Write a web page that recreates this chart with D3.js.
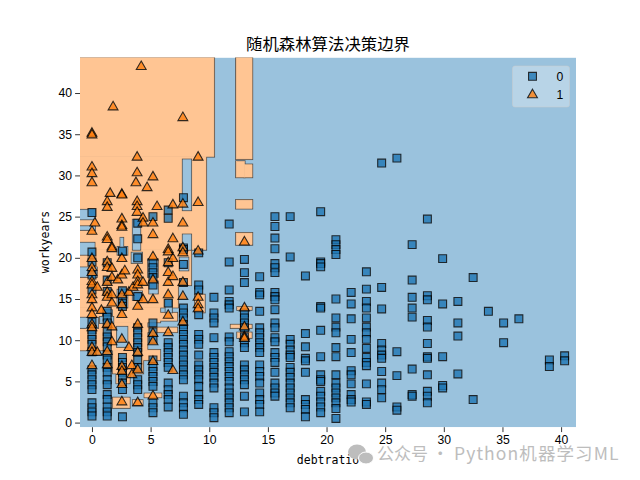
<!DOCTYPE html>
<html><head><meta charset="utf-8">
<script src="https://cdn.jsdelivr.net/npm/d3@7"></script>
<style>html,body{margin:0;background:#fff}svg{display:block}</style>
</head><body><svg id="c" width="640" height="480"></svg>
<script>
const titleText = "随机森林算法决策边界";
const xLabel = "debtratio", yLabel = "workyears";
const xTicks = [0,5,10,15,20,25,30,35,40];
const yTicks = [0,5,10,15,20,25,30,35,40];
const legendLabels = ["0","1"];
const debtColumns = [0,1.3,2.6,3.9,5.2,6.5,7.8,9.1,10.4,11.7,13,14.3,15.6,16.9,18.2,19.5,20.8,22.1,23.4,24.7,26,27.3,28.6,29.9,31.2,32.5,33.8,35.1,36.4,37.7,39,40.3];
const class0Years = [
[25.5,20.7,19.5,17.9,16.1,12.2,11.3,10.7,10.1,9.5,8.6,6.4,5.8,5.2,4.6,4,2.4,1.8,1.3,.8],
[19.4,17.3,15.9,13.5,12.8,12.1,11,10.4,9.8,9.2,8.2,7.6,6.7,6.1,5.2,4.6,3.4,2.8,1.9,1.3,.8],
[20.8,16,15.2,14.5,14.1,7.9,7.3,6.7,6.1,5.5,4.8,4,.7],
[24.2,22.3,20,15.3,11.5,10.9,10.3,9.7,9.1,8.5,7.6,6.7,5.2,4.6,4],
[25,19.4,18.8,18.2,17.6,16.7,12.1,11,10.1,7.6,6.8,6.2,5.6,5,4.4,2.4,1.8,1.2],
[25.8,24.8,19.4,14.5,9.7,9.1,8.5,7.9,7.3,6.7,4.8,4,3.4,2.8,1.9],
[27.3,21.2,21,19.2,17,13.9,13.3,12.7,11.9,11.3,10.7,10.1,9.5,8.8,8.2,7.6,7,6.4,5.8,5.2,3.2,2.4,1.8,1],
[20.6,16.7,16.1,13.1,10.7,10.1,9.5,8.2,7,6.4,5.8,5.2,4.4,3.4,2.8,2.2],
[15.2,13.3,12.7,12.1,10.3,8.5,7.9,7.3,6.7,6.1,5.5,4.8,4.2,1.8,1.2,.6],
[24.1,19.5,16.1,14.7,14.3,13.9,10.4,9.8,8.6,8,7.4,6.8,6.2,5.6,5,4.2,3.6,3,2.4,1.8,1.2],
[19.8,18.2,17,13.3,12.7,12.1,11.5,10.4,9.7,9.1,7,6.4,5.8,5.2,4.6,3.2,1.3],
[17.7,15.8,15.5,13.5,11.5,10.9,10.3,9.7,9.1,8.5,7,6.2,5.6,4.8,3.6,2.8,2.2,1.3],
[25,23.8,22.4,21.1,19.3,18.8,18.2,15.8,15.3,14.9,13.7,12.1,11.5,10.3,9.8,8.5,7.9,7.3,6.1,4.8,4.2,3.6,3.2],
[25,20.1,10.1,9.5,8.8,8.2,7.9,6.7,6.1,5.5,4.8,4.2,3.6,3,2.4,1.8],
[17.8,10.8,9.2,7.8,7.5,6.1,2.8,2.2,1.6,.7],
[25.6,19.5,19.3,18.9,14.1,13.9,11.2,8,5.8,5.2,5,3.8,3.2,2.5,1.9,1.2],
[22.2,21.6,21,20.4,15,12.7,11.6,10.9,9.1,8,5.8,4.8,4.2,3.6,3,2.4,1.7,.5],
[15.8,14.4,12.6,10.1,8.5,6.3,5.8,4.7,3.4,2.8,2.5],
[18.3,16.2,14.7,13.9,12.7,11.6,10.9,10.1,9,7.9,7.3,6.9,4.7,2.5,2.2],
[31.5,16.4,13.8,9.6,8.8,8.2,7.8,6.2,4.8,4,3],
[32.1,8.6,5.7,1.9,1.5],
[21.6,17.3,15.2,13.9,12.8,6.5,3.4,3.2],
[24.7,15.4,14.9,12.4,11.6,9.6,8,7.8,5.8,3.8,3.2,2.4],
[19.9,14.4,8,4.5,4.2],
[14.7,12.1,10.5,5.9],
[17.6,2.8],
[13.5],
[12.1,9.7],
[12.6],
[],
[7.6,6.8],
[8.1,7.5]
];
const class1Debt = [0,.25,.45,.8,1.3,1.55,1.7,1.8,2.2,2.55,2.8,3.15,3.4,3.5,3.75,3.85,3.9,4.2,4.35,4.7,5.2,5.55,6.5,6.9,7.75,9.05,13];
const class1Years = [
[35.1,34.9,31,30.2,29.1,23.2,19.9,18.8,18.2,17.1,16.7,15.5,14.9,13.9,13.1,11.9,11.5,9.1,8.5,6.9],
[24.2],
[16.4,8.5],
[13.6],
[26.8,26.1,22.5,22.2,19.5,18.8,17,15.8,15.2,11.9,8.6,7],
[27.8],
[21.3,21.1,18.7,17.6,15.5,14.5,11.6,9.8],
[38.3],
[17.3],
[27.7,27.6,24.7,23.9,23.7,19.9,17.9,15.5,14.3,13.1,10.1,6.8,6.2,4.6,2.5],
[18.4],
[15.8,9.1],
[6.9,5.8],
[16.4],
[29.1],
[32.2,30.3,26.8,26.2,25.5],
[18.5,17.9,17.1,16.7,14.1,11.9,8.5,6.4,2.4],
[43.2],
[24.8,24.2,17,14.9],
[28.5],
[29.8,24.2,22.8,20.1,17.3,14.9,10.8,9.8,7.4,3.2],
[26.2],
[21,20.7,19.4,18.2,17,15.5,13,10.9],
[26.4,22.3,19.9,17.7,6.3],
[37,26.5,24.2,21.2,20.6,17,15.3,12.2],
[32.2,26.7,20.8,15.2,14.3,13.8],
[21.9,13.9,11.6,10.4,10.2]
];
// decision regions: [debt0, debt1, years0, years1]
const orangeBoxes = [
[-1.1,10.4,32.3,44.4],[-1.1,9.72,21,32.3],[-1.1,8.44,16.7,21],[-1.1,7.33,14,16.7],
[8.8,9.6,13.4,15.5],[-1.1,5.8,12.2,14],[5.8,7.25,12.4,13.3],[4.7,7.25,11,11.5],
[-1.1,4.7,8.8,12.2],[1.8,5.8,7.6,8.8],[1.8,4.35,6,7.6],[2.1,3.2,4.8,6],
[1.8,3.2,1.8,3],[3.5,4.3,2.1,2.7],[4.5,5.9,3.1,3.5],
[12.4,13.6,13.7,14],[11.85,13.6,11.5,11.85],[12.4,13.6,10.3,10.9],
[12.3,13.65,32,44.4],[12.3,13,29.8,31.7],[13,13.65,29.8,31.3],[12.3,13.65,26,27],[12.3,13.65,21.6,23]
];
const blueHoles = [
[7.76,8.44,25.8,31.9],[7.76,8.44,21,22.8],[-1.1,.25,24.7,25.8],[-1.1,.25,23.4,23.8],
[-1.1,.2,20.4,21.8],[3.5,4.1,21,24.6],[2.45,2.65,21,22.4],[2.2,3,20.4,21.3],[3.4,4.25,19.4,20.6],
[-1.1,.4,17.7,18.8],[-1.1,.5,11.5,12.7],[.7,1.8,12.1,12.8],[2.15,3,9.2,11.6],[4.8,5.6,17.7,19.8],
[2.2,3,14,16.1],[3.5,4.25,14.9,15.9],[.95,1.7,13,13.6],[7.5,8.2,18.5,20],[6.3,6.8,13.4,14.9],[4.9,5.6,15.7,17.1]
];

const svg = d3.select("#c");
const x = d3.scaleLinear().domain([-1.02,41.27]).range([80,576]);
const y = d3.scaleLinear().domain([-.56,44.3]).range([427.2,57.6]);
const mono = "'DejaVu Sans Mono',monospace";
const sans = "'Liberation Sans',sans-serif";
const cjk = "'Noto Sans CJK SC',sans-serif";

svg.append("defs").append("clipPath").attr("id","pc").append("rect")
  .attr("x",80).attr("y",57.6).attr("width",496).attr("height",369.6);
const plot = svg.append("g").attr("clip-path","url(#pc)");
plot.append("rect").attr("x",x.range()[0]).attr("y",y.range()[1])
  .attr("width",496).attr("height",369.6).attr("fill","#9ac2dd");

function boxes(data, fill, stroke){
  plot.append("g").selectAll("rect").data(data).join("rect")
    .attr("x",d=>x(d[0])).attr("width",d=>x(d[1])-x(d[0]))
    .attr("y",d=>y(d[3])).attr("height",d=>y(d[2])-y(d[3]))
    .attr("fill",stroke?"none":fill)
    .attr("stroke",stroke||fill).attr("stroke-width",stroke?2.2:.6);
}
boxes(orangeBoxes,null,"#55504c");
boxes(orangeBoxes,"#ffc593",null);
boxes(blueHoles,null,"#55504c");
boxes(blueHoles,"#9ac2dd",null);

const sq = d3.symbol(d3.symbolSquare,62)();
const tri = d3.symbol(d3.symbolTriangle,42)();
const pts0 = debtColumns.flatMap((d,i)=>class0Years[i].map(v=>[d,v]));
const pts1 = class1Debt.flatMap((d,i)=>class1Years[i].map(v=>[d,v]));
function scatter(pts, path, fill){
  plot.append("g").selectAll("path").data(pts).join("path")
    .attr("d",path).attr("transform",d=>`translate(${x(d[0])},${y(d[1])})`)
    .attr("fill",fill).attr("stroke","#000").attr("stroke-width",1.1).attr("opacity",.8);
}
scatter(pts0,sq,"#1f77b4");
scatter(pts1,tri,"#ff7f0e");

const gx = svg.append("g").attr("transform","translate(0,427.2)")
  .call(d3.axisBottom(x).tickValues(xTicks).tickSize(4.9).tickPadding(3).tickFormat(d3.format("d")));
const gy = svg.append("g").attr("transform","translate(80,0)")
  .call(d3.axisLeft(y).tickValues(yTicks).tickSize(4.9).tickPadding(3).tickFormat(d3.format("d")));
[gx,gy].forEach(g=>{
  g.select(".domain").remove();
  g.selectAll("text").attr("font-family",sans).attr("font-size",12.2).attr("fill","#000");
  g.selectAll("line").attr("stroke","#000").attr("stroke-width",.8);
});

svg.append("text").attr("x",328).attr("y",50).attr("text-anchor","middle")
  .attr("font-family",cjk).attr("font-size",16.4).attr("fill","#000").text(titleText);
svg.append("text").attr("x",328).attr("y",464).attr("text-anchor","middle")
  .attr("font-family",mono).attr("font-size",11.5).attr("fill","#000").text(xLabel);
svg.append("text").attr("transform","translate(49,242) rotate(-90)").attr("text-anchor","middle")
  .attr("font-family",mono).attr("font-size",11.5).attr("fill","#000").text(yLabel);

// legend
const lg = svg.append("g");
lg.append("rect").attr("x",512.5).attr("y",66).attr("width",57).attr("height",41).attr("rx",2.5)
  .attr("fill","#fff").attr("fill-opacity",.3).attr("stroke","#ccc").attr("stroke-opacity",.5);
legendLabels.forEach((t,i)=>{
  const cy = 76.3+i*18.6;
  lg.append("path").attr("d",i?tri:sq).attr("transform",`translate(532.5,${cy})`)
    .attr("fill",i?"#ff7f0e":"#1f77b4").attr("stroke","#000").attr("stroke-width",1.1).attr("opacity",.8);
  lg.append("text").attr("x",560).attr("y",cy+4.2).attr("text-anchor","middle")
    .attr("font-family",sans).attr("font-size",12.2).attr("fill","#000").text(t);
});

// watermark
const wm = svg.append("g").attr("fill","#bdbdbd");
wm.append("ellipse").attr("cx",357).attr("cy",452).attr("rx",9).attr("ry",7.5);
wm.append("ellipse").attr("cx",366).attr("cy",458).attr("rx",7.5).attr("ry",6).attr("stroke","#fff").attr("stroke-width",1);
svg.append("text").attr("x",377).attr("y",460).attr("font-family",cjk).attr("font-size",17)
  .attr("fill","#bdbdbd").text("公众号 ·");
svg.append("text").attr("x",454).attr("y",460).attr("font-family",cjk).attr("font-size",17.5)
  .attr("letter-spacing",1.1).attr("fill","#bdbdbd").text("Python机器学习ML");
</script></body></html>
